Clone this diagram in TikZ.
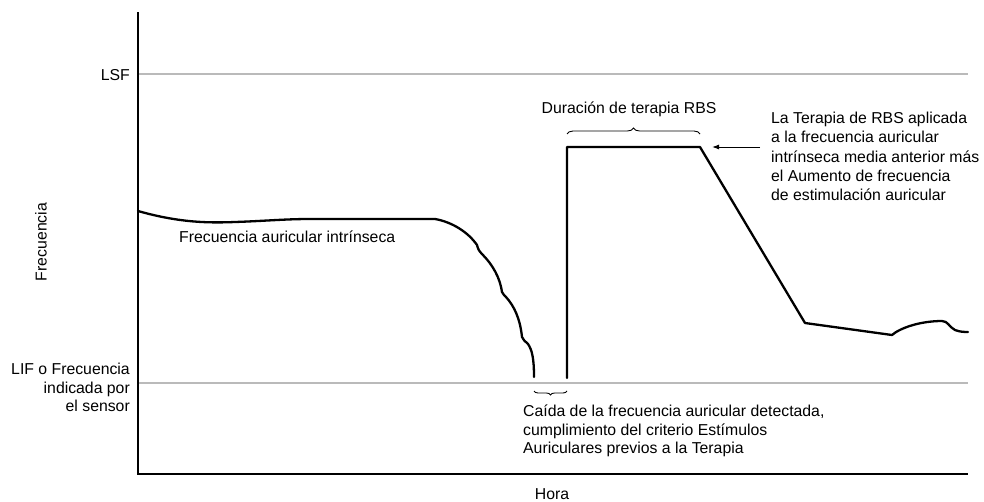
\documentclass[tikz,border=0pt]{standalone}
\usepackage{fontspec}
\setmainfont{Liberation Sans}
\usetikzlibrary{decorations.pathreplacing,arrows.meta}
\begin{document}
\begin{tikzpicture}[x=1pt,y=-1pt,
  lbl/.style={font=\fontsize{15.8}{18.4}\selectfont, inner sep=0pt},
  guide/.style={draw=black!27, line width=1.4pt},
  axis/.style={line width=1.3pt},
  trace/.style={line width=2.3pt, line join=round, line cap=round},
  bracetop/.style={decorate, decoration={brace, amplitude=6pt}, line width=0.9pt},
  bracebot/.style={decorate, decoration={brace, mirror, amplitude=4pt}, line width=0.9pt},
]
\useasboundingbox (0,0) rectangle (984,501);
% guide lines
\coordinate (lsfL) at (138,74); \coordinate (lsfR) at (968,74);
\coordinate (lifL) at (138,383); \coordinate (lifR) at (968,383);
\draw[guide] (lsfL) -- (lsfR);
\draw[guide] (lifL) -- (lifR);
% axes
\coordinate (ytop) at (138,12);
\coordinate (orig) at (138,474);
\coordinate (xend) at (968,474);
\draw[axis] (ytop) -- (orig) -- (xend);
% labels
\node[lbl, anchor=east] (lsf) at (130,75) {LSF};
\node[lbl, align=right, anchor=north east] (lif) at (130,363) {LIF o Frecuencia\\indicada por\hspace*{4pt}\\el sensor};
\node[lbl, rotate=90] (ylab) at (41,242) {Frecuencia};
\node[lbl] (hora) at (552,494) {Hora};
\node[lbl, anchor=west] (fai) at (179,237) {Frecuencia auricular intrínseca};
\node[lbl] (dur) at (629,109) {Duración de terapia RBS};
\node[lbl, align=left, anchor=north west, font=\fontsize{15.8}{19.3}\selectfont] (rbs) at (771,112)
  {La Terapia de RBS aplicada\\a la frecuencia auricular\\intrínseca media anterior más\\el Aumento de frecuencia\\de estimulación auricular};
\node[lbl, align=left, anchor=north west] (caida) at (523,405)
  {Caída de la frecuencia auricular detectada,\\cumplimiento del criterio Estímulos\\Auriculares previos a la Terapia};
% intrinsic rate trace and drop
\coordinate (s0) at (138,211);
\coordinate (dropend) at (534,377);
\draw[trace] (s0) .. controls (180,223) and (210,223) .. (235,222)
  .. controls (265,221) and (285,219) .. (310,219) -- (435,219)
  .. controls (452,222) and (468,232) .. (477,245)
  .. controls (478,249) and (479,251) .. (482,254)
  .. controls (493,265) and (500,278) .. (502,292)
  .. controls (503,294) and (504,295) .. (506,297)
  .. controls (514,306) and (520,318) .. (522,337)
  .. controls (523,340) and (525,341) .. (528,344)
  .. controls (532,350) and (534,358) .. (dropend);
% RBS therapy trace
\coordinate (r0) at (567,378);
\coordinate (r1) at (567,147);
\coordinate (r2) at (700,147);
\coordinate (r3) at (805,323);
\coordinate (r4) at (892,335);
\coordinate (r5) at (968,332);
\draw[trace] (r0) -- (r1) -- (r2) -- (r3) -- (r4)
  .. controls (900,328) and (920,321) .. (942,321)
  .. controls (948,321) and (949,327) .. (955,330)
  .. controls (960,332) and (965,332) .. (r5);
% braces
\coordinate (bt1) at (567,134); \coordinate (bt2) at (700,134);
\draw[bracetop] (bt1) -- (bt2);
\coordinate (bb1) at (534,391); \coordinate (bb2) at (567,391);
\draw[bracebot] (bb1) -- (bb2);
% arrow
\coordinate (atail) at (760,147); \coordinate (atip) at (712,147);
\draw[-{Latex[length=7pt,width=5pt]}, line width=1pt] (atail) -- (atip);
\end{tikzpicture}
\end{document}
